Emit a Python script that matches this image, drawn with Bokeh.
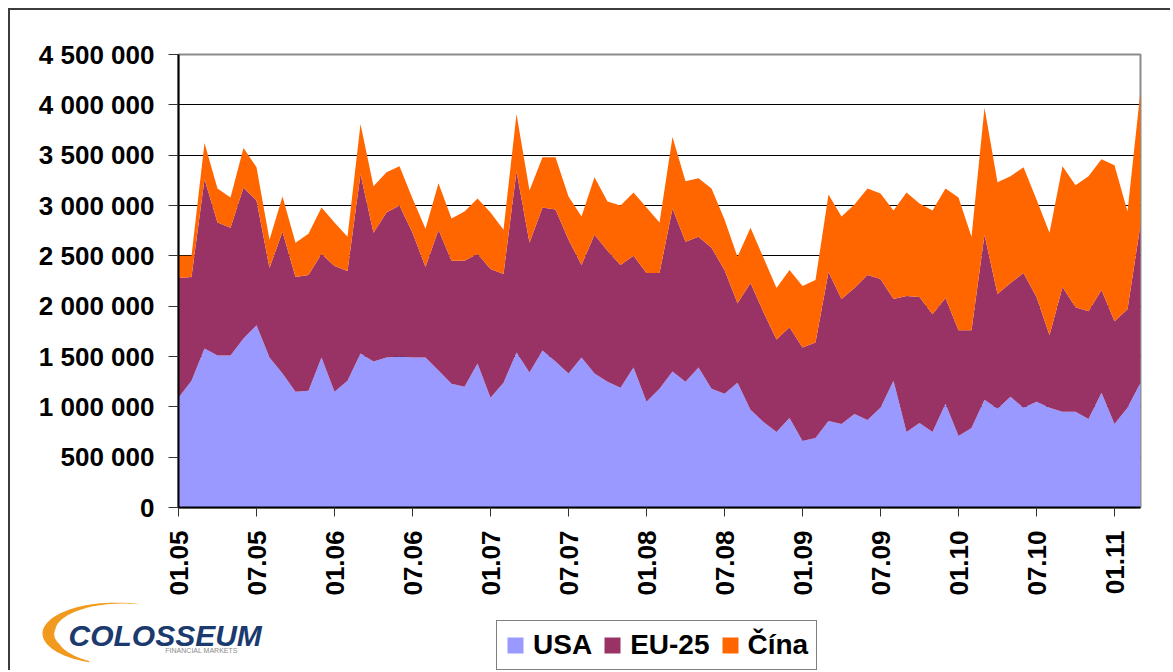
import numpy as np
from bokeh.plotting import figure
from bokeh.layouts import column
from bokeh.models import ColumnDataSource, FixedTicker, Legend, LegendItem
from bokeh.core.properties import value
from bokeh.embed import file_html
from bokeh.resources import INLINE

# ---- data (monthly, 01.05 .. 03.11) ----
usa = [1.09, 1.26, 1.58, 1.51, 1.51, 1.68, 1.81, 1.49, 1.33, 1.15, 1.16, 1.49, 1.15, 1.26, 1.53,
       1.45, 1.49, 1.50, 1.49, 1.49, 1.36, 1.23, 1.20, 1.43, 1.09, 1.24, 1.54, 1.34, 1.56, 1.45,
       1.33, 1.49, 1.33, 1.25, 1.19, 1.39, 1.05, 1.18, 1.35, 1.25, 1.39, 1.18, 1.13, 1.24, 0.97,
       0.85, 0.75, 0.89, 0.66, 0.69, 0.86, 0.83, 0.93, 0.87, 0.99, 1.26, 0.75, 0.84, 0.75, 1.03,
       0.71, 0.79, 1.07, 0.98, 1.10, 0.99, 1.05, 0.99, 0.95, 0.95, 0.88, 1.14, 0.83, 0.99, 1.24]
eu25 = [1.19, 1.03, 1.68, 1.32, 1.27, 1.50, 1.24, 0.89, 1.41, 1.14, 1.15, 1.03, 1.25, 1.09, 1.78,
        1.28, 1.44, 1.50, 1.24, 0.90, 1.40, 1.22, 1.25, 1.09, 1.28, 1.08, 1.80, 1.29, 1.42, 1.51,
        1.33, 0.92, 1.38, 1.30, 1.22, 1.11, 1.28, 1.15, 1.62, 1.39, 1.30, 1.40, 1.23, 0.79, 1.26,
        1.09, 0.92, 0.90, 0.93, 0.95, 1.48, 1.24, 1.25, 1.44, 1.28, 0.81, 1.35, 1.25, 1.17, 1.05,
        1.05, 0.97, 1.64, 1.14, 1.13, 1.34, 1.04, 0.72, 1.24, 1.04, 1.07, 1.02, 1.02, 0.98, 1.57]
cina = [0.22, 0.21, 0.36, 0.34, 0.30, 0.39, 0.33, 0.28, 0.35, 0.34, 0.41, 0.46, 0.43, 0.34, 0.50,
        0.46, 0.40, 0.39, 0.34, 0.38, 0.46, 0.42, 0.49, 0.55, 0.56, 0.44, 0.57, 0.52, 0.50, 0.52,
        0.43, 0.48, 0.57, 0.49, 0.59, 0.63, 0.65, 0.50, 0.71, 0.60, 0.58, 0.59, 0.50, 0.46, 0.55,
        0.54, 0.51, 0.57, 0.61, 0.62, 0.77, 0.82, 0.83, 0.86, 0.85, 0.88, 1.03, 0.93, 1.03, 1.09,
        1.32, 0.93, 1.26, 1.11, 1.06, 1.05, 0.97, 1.02, 1.20, 1.21, 1.34, 1.30, 1.55, 0.97, 1.33]
series_names = ["USA", "EU-25", "Čína"]
series_colors = ["#9999FF", "#993366", "#FF6600"]
x_tick_labels = ["01.05", "07.05", "01.06", "07.06", "01.07", "07.07", "01.08",
                 "07.08", "01.09", "07.09", "01.10", "07.10", "01.11"]
y_tick_values = [0, 500000, 1000000, 1500000, 2000000, 2500000, 3000000, 3500000, 4000000, 4500000]
y_tick_labels = ["0", "500 000", "1 000 000", "1 500 000", "2 000 000", "2 500 000",
                 "3 000 000", "3 500 000", "4 000 000", "4 500 000"]

n = len(usa)
source = ColumnDataSource(dict(
    x=list(range(n)),
    usa=[v * 1e6 for v in usa],
    eu=[v * 1e6 for v in eu25],
    cina=[v * 1e6 for v in cina],
))

FONT = "Liberation Sans"
W = 1160
H_MAIN, H_STRIP = 592, 68

# ---------------- main chart ----------------
p = figure(width=W, height=H_MAIN, output_backend="svg", toolbar_location=None,
           x_range=(0, n - 1), y_range=(0, 4500000),
           min_border_left=168, min_border_right=30, min_border_top=44,
           min_border_bottom=H_MAIN - 497,
           background_fill_color="white", border_fill_color="white")

p.varea_stack(["usa", "eu", "cina"], x="x", source=source, color=series_colors)

p.xaxis.ticker = FixedTicker(ticks=[6 * i for i in range(len(x_tick_labels))])
p.xaxis.major_label_overrides = {6 * i: lab for i, lab in enumerate(x_tick_labels)}
p.xaxis.major_label_orientation = np.pi / 2
p.xaxis.minor_tick_line_color = None
p.xaxis.major_tick_in = 0
p.xaxis.major_tick_out = 9
p.xaxis.major_label_standoff = 14
p.yaxis.ticker = FixedTicker(ticks=y_tick_values)
p.yaxis.major_label_overrides = {v: lab for v, lab in zip(y_tick_values, y_tick_labels)}
p.yaxis.minor_tick_line_color = None
p.yaxis.major_tick_in = 0
p.yaxis.major_tick_out = 10
p.yaxis.major_label_standoff = 14
for ax in (p.xaxis[0], p.yaxis[0]):
    ax.major_label_text_font = FONT
    ax.major_label_text_font_style = "bold"
    ax.major_label_text_font_size = "26px"
    ax.major_label_text_color = "black"
    ax.axis_line_color = "black"
    ax.axis_line_width = 2
    ax.major_tick_line_color = "#333333"

p.xgrid.grid_line_color = None
p.ygrid.grid_line_color = "black"
p.ygrid.grid_line_width = 1
p.outline_line_color = "#8c8c8c"
p.outline_line_width = 2

# ---------------- bottom strip: logo + legend ----------------
q = figure(width=W, height=H_STRIP, output_backend="svg", toolbar_location=None,
           x_range=(0, W), y_range=(0, H_STRIP), min_border=0,
           background_fill_color="white", border_fill_color="white")
q.axis.visible = False
q.grid.visible = False
q.outline_line_color = None
for fig in (p, q):
    if "frame_align" in fig.properties():
        fig.frame_align = False

# zero-area stand-ins whose only job is to give the legend its colour swatches
swatches = [q.varea(x=[0, 1], y1=[0, 0], y2=[0, 0], color=c) for c in series_colors]
legend = Legend(items=[LegendItem(label=nm, renderers=[r]) for nm, r in zip(series_names, swatches)],
                orientation="horizontal", location=(486, 0),
                label_text_font=FONT, label_text_font_style="bold", label_text_font_size="28px",
                label_text_color="black", glyph_width=20, glyph_height=20, label_standoff=8,
                spacing=10, padding=8, margin=0, border_line_color="black", border_line_width=1,
                background_fill_alpha=1.0)
q.add_layout(legend, "center")

# logo swoosh + text (strip coords: x = page_x - 10, y = 670 - page_y)
t = np.radians(np.linspace(72, 248, 90))
thick = np.interp(np.degrees(t), [72, 110, 170, 205, 248], [0.5, 4, 12, 11, 2])
cx, cy, rx, ry = 106, 37, 74, 31
ox = cx + rx * np.cos(t)
oy = cy + ry * np.sin(t)
ix = cx + (rx - thick) * np.cos(t)
iy = cy + (ry - thick * 0.55) * np.sin(t)
q.patch(list(ox) + list(ix[::-1]), list(oy) + list(iy[::-1]),
        fill_color="#F29A1E", line_color=None)
q.text(x=[58], y=[35], text=["COLOSSEUM"], text_font=value(FONT),
       text_font_style="bold italic", text_font_size="30px", text_color="#1B3A6E",
       text_baseline="alphabetic", text_align="left")
q.text(x=[191], y=[20], text=["FINANCIAL MARKETS"], text_font=value(FONT),
       text_font_size="7px", text_color="#8a8a8a", text_baseline="middle", text_align="center")

layout = column(p, q, spacing=0)
layout.styles = {"margin-left": "8px", "margin-top": "8px",
                 "border-left": "2px solid #3c3c3c", "border-top": "2px solid #3c3c3c"}

open("out.html", "w").write(file_html(layout, INLINE))
